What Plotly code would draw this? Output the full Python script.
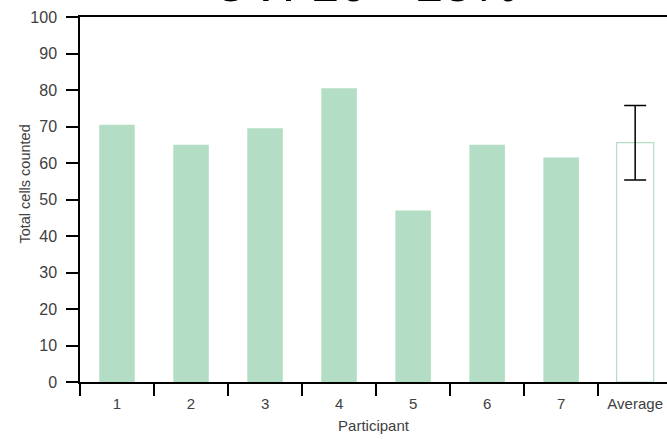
import numpy as np
import plotly.graph_objects as go

# Cells counted by each participant
participants = ["1", "2", "3", "4", "5", "6", "7"]
cells_counted = [70.5, 65.0, 69.5, 80.5, 47.0, 65.0, 61.5]
avg_label = "Average"
categories = participants + [avg_label]
y_ticks = list(range(0, 101, 10))

avg_value = float(np.mean(cells_counted))
avg_sd = float(np.std(cells_counted, ddof=1))

bar_green = "#b3dec5"
text_grey = "#404040"
font_family = "Liberation Sans, Arial, sans-serif"

fig = go.Figure()

fig.add_trace(go.Bar(
    x=participants,
    y=cells_counted,
    width=0.48,
    marker=dict(color=bar_green, line=dict(width=0)),
    showlegend=False,
))

fig.add_trace(go.Bar(
    x=[avg_label],
    y=[avg_value],
    width=0.5,
    marker=dict(color="white", line=dict(color=bar_green, width=1.2)),
    error_y=dict(type="data", array=[avg_sd], visible=True,
                 color="black", thickness=1.5, width=11),
    showlegend=False,
))

# Large heading running off the top edge
fig.add_annotation(
    text="CV: 10 - 15%",
    xref="paper", yref="paper", x=0.485, y=1,
    xanchor="center", yanchor="bottom", yshift=3,
    showarrow=False,
    font=dict(family=font_family, size=52, color="black"),
)

# Vertical axis title
fig.add_annotation(
    text="Total cells counted",
    xref="paper", yref="paper", x=-0.093, y=0.542,
    xanchor="center", yanchor="middle", textangle=-90,
    showarrow=False,
    font=dict(family=font_family, size=14.5, color=text_grey),
)

fig.update_layout(
    width=667, height=439,
    margin=dict(l=80, r=0, t=17, b=57),
    paper_bgcolor="white", plot_bgcolor="white",
    barmode="overlay",
    font=dict(family=font_family, color=text_grey, size=14),
)

fig.update_xaxes(
    type="category",
    categoryorder="array", categoryarray=categories,
    range=[-0.5, 7.43],
    tickson="boundaries",
    ticks="outside", ticklen=12, tickwidth=1.5, tickcolor="black",
    ticklabelstandoff=7,
    showline=True, linecolor="black", linewidth=1.5, mirror=True,
    showgrid=False, zeroline=False,
    tickfont=dict(size=15, color=text_grey),
    title=dict(text="Participant", font=dict(size=15, color=text_grey), standoff=10),
)

fig.update_yaxes(
    range=[0, 100],
    tickvals=y_ticks,
    ticks="outside", ticklen=12, tickwidth=1.5, tickcolor="black",
    ticklabelstandoff=6,
    showline=True, linecolor="black", linewidth=1.5,
    showgrid=False, zeroline=False,
    tickfont=dict(size=16, color=text_grey),
)

fig.write_html("out.html")
